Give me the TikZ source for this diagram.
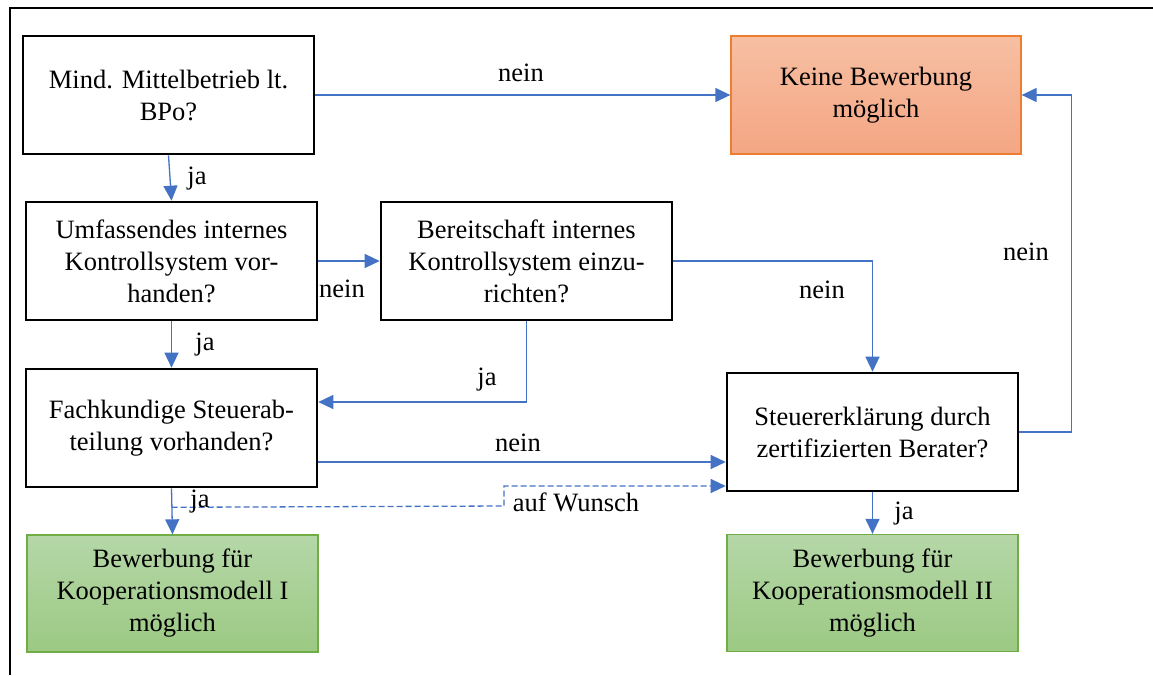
\documentclass[tikz,border=0pt]{standalone}
\usepackage{fontspec}
\setmainfont{Liberation Serif}
\usetikzlibrary{arrows.meta,calc}
\definecolor{lineblue}{HTML}{4472C4}
\definecolor{orbord}{HTML}{ED7D31}
\definecolor{ortop}{HTML}{F7BFA2}
\definecolor{orbot}{HTML}{F4A683}
\definecolor{grbord}{HTML}{70AD47}
\definecolor{grtop}{HTML}{B5D7A8}
\definecolor{grbot}{HTML}{9CC983}
\tikzset{
  txt/.style={font=\fontsize{26.5}{32}\selectfont},
  qbox/.style={txt, draw=black, line width=2.6pt, fill=white, minimum width=291pt, minimum height=118pt, align=center, inner sep=0pt},
  redbox/.style={txt, draw=orbord, line width=1.3pt, top color=ortop, bottom color=orbot, minimum width=290pt, minimum height=118pt, align=center, inner sep=0pt},
  grnbox/.style={txt, draw=grbord, line width=1.3pt, top color=grtop, bottom color=grbot, minimum width=291pt, minimum height=117pt, align=center, inner sep=0pt},
  conn/.style={draw=lineblue, line width=1.3pt, -{Triangle[length=15pt,width=14pt]}},
  dconn/.style={conn, dash pattern=on 6pt off 3pt},
  lbl/.style={txt, inner sep=0pt}
}
\begin{document}
\begin{tikzpicture}[x=1pt,y=-1pt]
\useasboundingbox (0,0) rectangle (1153,675);
\fill[white] (0,0) rectangle (1153,675);
\draw[line width=2.5pt] (10,675) -- (10,8) -- (1153,8);

\node[qbox] (A) at (168.5,95) {Mind. Mittelbetrieb lt.\\BPo?};
\node[redbox] (K) at (876,95) {Keine Bewerbung\\möglich};
\node[qbox] (B) at (171.5,261) {Umfassendes internes\\Kontrollsystem vor-\\handen?};
\node[qbox] (C) at (526.5,261) {Bereitschaft internes\\Kontrollsystem einzu-\\richten?};
\node[qbox] (D) at (171.5,428) {Fachkundige Steuerab-\\teilung vorhanden?};
\node[qbox] (E) at (872.5,432) {Steuererklärung durch\\zertifizierten Berater?};
\node[grnbox] (G1) at (172.5,593.5) {Bewerbung für\\Kooperationsmodell I\\möglich};
\node[grnbox] (G2) at (872.5,593) {Bewerbung für\\Kooperationsmodell II\\möglich};

\draw[conn] (A.east) -- (K.west);
\draw[conn] (A.south) -- (B.north);
\draw[conn] (B.east) -- (C.west);
\draw[conn] (B.south) -- (D.north);
\draw[conn] (C.south) |- ($(D.east)+(0,-26)$);
\draw[conn] (C.east) -| (E.north);
\draw[conn] ($(D.east)+(0,34)$) -- ($(E.west)+(0,30)$);
\draw[conn] (D.south) -- (G1.north);
\coordinate (j) at ($(D.south)+(0,19)$);
\coordinate (w) at (504,506);
\draw[dconn] (j) -- (w) |- ($(E.west)+(0,54)$);
\draw[conn] (E.east) -- ++(52,0) |- (K.east);
\draw[conn] (E.south) -- (G2.north);

\node[lbl] (l1) at (521,73) {nein};
\node[lbl] (l2) at (197,179) {ja};
\node[lbl] (l3) at (342,289) {nein};
\node[lbl] (l4) at (205,345) {ja};
\node[lbl] (l5) at (487,380) {ja};
\node[lbl] (l6) at (822,290) {nein};
\node[lbl] (l7) at (518,443) {nein};
\node[lbl] (l8) at (200,502) {ja};
\node[lbl] (l9) at (576,502) {auf Wunsch};
\node[lbl] (l10) at (904,514) {ja};
\node[lbl] (l11) at (1026,252) {nein};
\end{tikzpicture}
\end{document}
